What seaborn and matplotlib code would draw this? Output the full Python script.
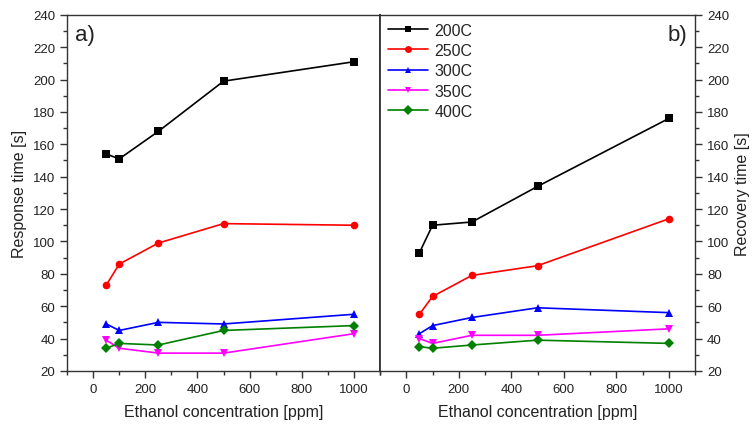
import matplotlib
matplotlib.use("Agg")
import matplotlib.pyplot as plt
from matplotlib.ticker import MultipleLocator
import seaborn as sns
import pandas as pd

sns.set_theme(style="ticks")
plt.rcParams['font.family'] = ['Liberation Sans', 'DejaVu Sans']

conc = [50, 100, 250, 500, 1000]
temps = ["200C", "250C", "300C", "350C", "400C"]
response = {
    "200C": [154, 151, 168, 199, 211],
    "250C": [73, 86, 99, 111, 110],
    "300C": [49, 45, 50, 49, 55],
    "350C": [39, 34, 31, 31, 43],
    "400C": [34, 37, 36, 45, 48],
}
recovery = {
    "200C": [93, 110, 112, 134, 176],
    "250C": [55, 66, 79, 85, 114],
    "300C": [43, 48, 53, 59, 56],
    "350C": [40, 37, 42, 42, 46],
    "400C": [35, 34, 36, 39, 37],
}
colors = ["#000000", "#ff0000", "#0000ff", "#ff00ff", "#008000"]
marks = ["s", "o", "^", "v", "D"]

def to_df(d):
    rows = []
    for t in temps:
        for c, v in zip(conc, d[t]):
            rows.append({"conc": c, "val": v, "temp": t})
    return pd.DataFrame(rows)

fig = plt.figure(figsize=(7.54, 4.27), dpi=100)
ax1 = fig.add_axes([0.089, 0.129, 0.415, 0.834])
ax2 = fig.add_axes([0.504, 0.129, 0.418, 0.834])

pal = dict(zip(temps, colors))
mk = dict(zip(temps, marks))
for ax, d in [(ax1, response), (ax2, recovery)]:
    df = to_df(d)
    sns.lineplot(data=df, x="conc", y="val", hue="temp", style="temp",
                 palette=pal, markers=mk, dashes=False, markersize=5.5,
                 markeredgewidth=0, linewidth=1.2, ax=ax, legend=(ax is ax2))
    ax.set_xlim(-100, 1100)
    ax.set_ylim(20, 240)
    ax.xaxis.set_major_locator(MultipleLocator(200))
    ax.xaxis.set_minor_locator(MultipleLocator(100))
    ax.yaxis.set_major_locator(MultipleLocator(20))
    ax.yaxis.set_minor_locator(MultipleLocator(10))
    ax.set_xlabel("Ethanol concentration [ppm]", fontsize=11.5, color="#222222",
                  labelpad=7)
    for s in ax.spines.values():
        s.set_color("#333333")
        s.set_linewidth(1.0)
    ax.tick_params(which="major", direction="out", length=5, width=1,
                   labelsize=9.5, colors="#333333", labelcolor="#222222")
    ax.tick_params(which="minor", direction="out", length=3, width=1, colors="#333333")
    ax.tick_params(axis="x", top=False)

ax1.spines["right"].set_linewidth(1.3)
ax2.spines["left"].set_linewidth(1.3)
ax1.tick_params(axis="y", left=True, right=False, which="both")
ax1.set_ylabel("Response time [s]", fontsize=11.5, color="#222222")
ax2.yaxis.tick_right()
ax2.yaxis.set_label_position("right")
ax2.tick_params(axis="y", left=False, right=True, which="both")
ax2.set_ylabel("Recovery time [s]", fontsize=11.5, color="#222222")

ax1.text(0.025, 0.975, "a)", transform=ax1.transAxes, fontsize=16,
         va="top", ha="left", color="#222222")
ax2.text(0.975, 0.975, "b)", transform=ax2.transAxes, fontsize=16,
         va="top", ha="right", color="#222222")

leg = ax2.legend(loc="upper left", frameon=False, fontsize=11.5,
                 handlelength=2.5, borderaxespad=0.1, labelspacing=0.33,
                 handletextpad=0.4, bbox_to_anchor=(0.0, 1.0))
for h in leg.legend_handles:
    h.set_markersize(5)

fig.savefig("out.png", dpi=100)
